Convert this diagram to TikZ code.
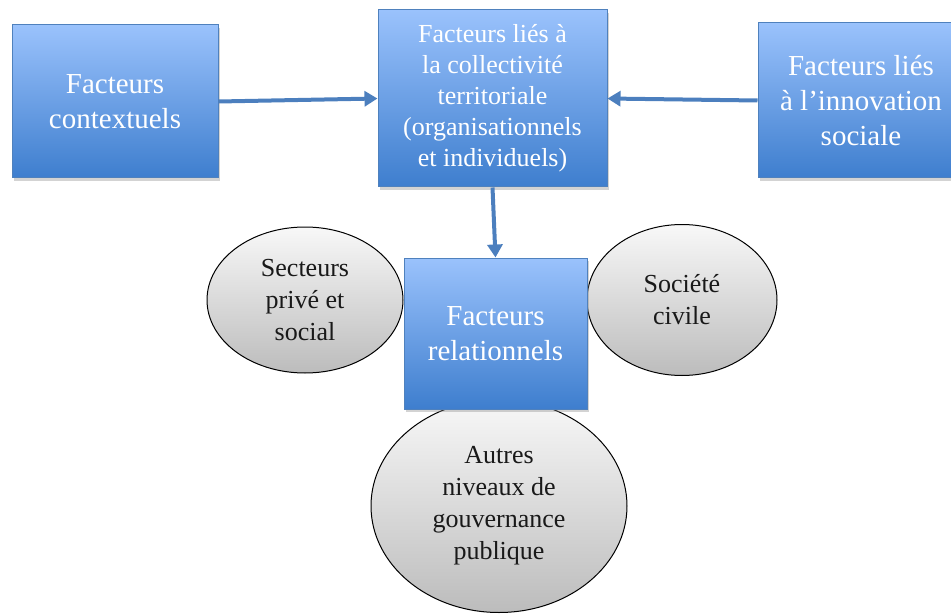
\documentclass[tikz,border=0pt]{standalone}
\usepackage{fontspec}
\newfontfamily\tms{LiberationSerif-Regular.ttf}
\usetikzlibrary{arrows.meta,shadows,shapes.geometric}
\definecolor{boxtop}{RGB}{154,194,252}
\definecolor{boxbot}{RGB}{62,126,206}
\definecolor{boxline}{RGB}{79,129,189}
\definecolor{arrowc}{RGB}{76,127,190}
\definecolor{elltop}{RGB}{248,248,248}
\definecolor{ellbot}{RGB}{188,188,188}
\tikzset{
  bluebox/.style={draw=boxline, line width=1pt, top color=boxtop, bottom color=boxbot,
    text=white, align=center, inner sep=0pt,
    drop shadow={opacity=0.35, shadow xshift=1.5pt, shadow yshift=-3pt},
    font=\tms\fontsize{29}{35}\selectfont},
  grayell/.style={ellipse, draw=black, line width=1pt, top color=elltop, bottom color=ellbot,
    align=center, inner sep=0pt, text=black!90,
    font=\tms\fontsize{26}{32}\selectfont},
  conn/.style={draw=arrowc, line width=4pt, -{Triangle[length=13pt,width=15pt]}}
}
\begin{document}
\begin{tikzpicture}[x=1pt,y=-1pt]
\useasboundingbox (0,0) rectangle (951,615);
% ellipses
\node[grayell, minimum width=196pt, minimum height=146pt] (e1) at (305,300)
  {Secteurs\\privé et\\social};
\node[grayell, minimum width=190pt, minimum height=151pt] (e2) at (682,300)
  {Société\\civile};
\node[grayell, minimum width=256pt, minimum height=213pt] (e3) at (499,506)
  {Autres\\niveaux de\\gouvernance\\publique};
% boxes
\node[bluebox, minimum width=206pt, minimum height=153pt] (b1) at (115,101.5)
  {Facteurs\\contextuels};
\node[bluebox, minimum width=229pt, minimum height=177pt, font=\tms\fontsize{26}{31}\selectfont] (b2) at (492.5,98.5)
  {Facteurs liés à\\la collectivité\\territoriale\\(organisationnels\\et individuels)};
\node[bluebox, minimum width=206pt, minimum height=155pt] (b3) at (861,100.5)
  {Facteurs liés\\à l’innovation\\sociale};
\node[bluebox, minimum width=183pt, minimum height=151pt] (b4) at (495.5,333.5)
  {Facteurs\\relationnels};
% connectors
\draw[conn] (b1.east) -- (b2.west);
\draw[conn] (b3.west) -- (b2.east);
\draw[conn] (b2.south) -- (b4.north);
\end{tikzpicture}
\end{document}
